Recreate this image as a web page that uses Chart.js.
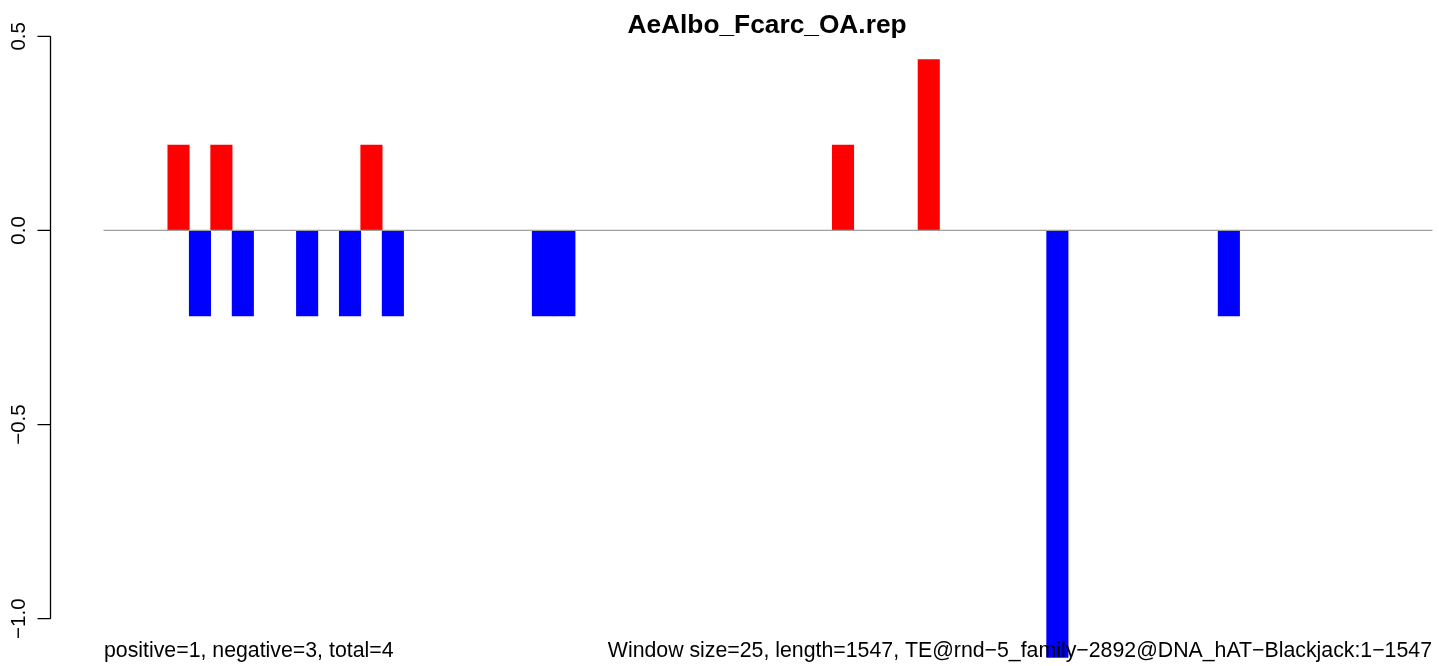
<!DOCTYPE html>
<html>
<head>
<meta charset="utf-8">
<script src="https://cdn.jsdelivr.net/npm/chart.js@4.4.1/dist/chart.umd.min.js"></script>
<style>
  html, body { margin: 0; padding: 0; background: #ffffff; }
  #wrap { width: 1439px; height: 666px; position: relative; }
</style>
</head>
<body>
<div id="wrap"><canvas id="c" width="1439" height="666"></canvas></div>
<script>
// ---- data ----
const title = "AeAlbo_Fcarc_OA.rep";
const windowCount = 62; // 1547 / 25 windows
const windowLabels = Array.from({length: windowCount}, (_, i) => String(i + 1));
// positive (red) windows: index -> value
const positiveIdx = [3, 5, 12, 34, 38];
const positiveVal = [0.22, 0.22, 0.22, 0.22, 0.44];
// negative (blue) windows: index -> value
const negativeIdx = [4, 6, 9, 11, 13, 20, 21, 44, 52];
const negativeVal = [-0.22, -0.22, -0.22, -0.22, -0.22, -0.22, -0.22, -1.1, -0.22];
const yTicks = [0.5, 0.0, -0.5, -1.0];
const yTickLabels = ["0.5", "0.0", "\u22120.5", "\u22121.0"];
const leftNote = "positive=1, negative=3, total=4";
const rightNote = "Window size=25, length=1547, TE@rnd\u22125_family\u22122892@DNA_hAT\u2212Blackjack:1\u22121547";

const positive = new Array(windowCount).fill(null);
positiveIdx.forEach((k, j) => positive[k] = positiveVal[j]);
const negative = new Array(windowCount).fill(null);
negativeIdx.forEach((k, j) => negative[k] = negativeVal[j]);

const FONT = '"Liberation Sans", Arial, Helvetica, sans-serif';

const decor = {
  id: 'decor',
  afterDatasetsDraw(chart) {
    const ctx = chart.ctx;
    const ys = chart.scales.y;
    const ca = chart.chartArea;
    ctx.save();
    // zero line
    const y0 = ys.getPixelForValue(0);
    ctx.strokeStyle = '#a0a0a0';
    ctx.lineWidth = 1.2;
    ctx.beginPath();
    ctx.moveTo(ca.left, y0);
    ctx.lineTo(ca.right, y0);
    ctx.stroke();
    // y axis (R style)
    const axX = 50.5;
    const yTop = ys.getPixelForValue(yTicks[0]);
    const yBot = ys.getPixelForValue(yTicks[yTicks.length - 1]);
    ctx.strokeStyle = '#000';
    ctx.lineWidth = 1.3;
    ctx.beginPath();
    ctx.moveTo(axX, yTop);
    ctx.lineTo(axX, yBot);
    yTicks.forEach(v => {
      const p = ys.getPixelForValue(v);
      ctx.moveTo(axX, p);
      ctx.lineTo(axX - 13, p);
    });
    ctx.stroke();
    ctx.fillStyle = '#000';
    ctx.font = '20.5px ' + FONT;
    ctx.textAlign = 'center';
    ctx.textBaseline = 'alphabetic';
    yTicks.forEach((v, i) => {
      const p = ys.getPixelForValue(v);
      ctx.save();
      ctx.translate(25, p);
      ctx.rotate(-Math.PI / 2);
      ctx.fillText(yTickLabels[i], 0, 0);
      ctx.restore();
    });
    // title
    ctx.font = 'bold 26.3px ' + FONT;
    ctx.textAlign = 'center';
    ctx.fillText(title, 767, 33);
    // bottom notes
    ctx.font = '21.3px ' + FONT;
    ctx.textAlign = 'left';
    ctx.fillText(leftNote, 104, 657);
    ctx.textAlign = 'right';
    ctx.fillText(rightNote, 1432, 657);
    ctx.restore();
  }
};

new Chart(document.getElementById('c'), {
  type: 'bar',
  data: {
    labels: windowLabels,
    datasets: [
      { label: 'positive', data: positive, backgroundColor: '#ff0000', borderWidth: 0,
        barPercentage: 1, categoryPercentage: 1, grouped: false, clip: false },
      { label: 'negative', data: negative, backgroundColor: '#0000ff', borderWidth: 0,
        barPercentage: 1, categoryPercentage: 1, grouped: false, clip: false }
    ]
  },
  options: {
    responsive: false,
    animation: false,
    devicePixelRatio: 1,
    layout: { padding: { left: 103.5, right: 6.5, top: 36.3, bottom: 47.3 } },
    plugins: { legend: { display: false }, tooltip: { enabled: false }, title: { display: false } },
    scales: {
      x: { display: false, offset: true, grid: { display: false } },
      y: { display: false, min: -1, max: 0.5, grid: { display: false } }
    }
  },
  plugins: [decor]
});
</script>
</body>
</html>
